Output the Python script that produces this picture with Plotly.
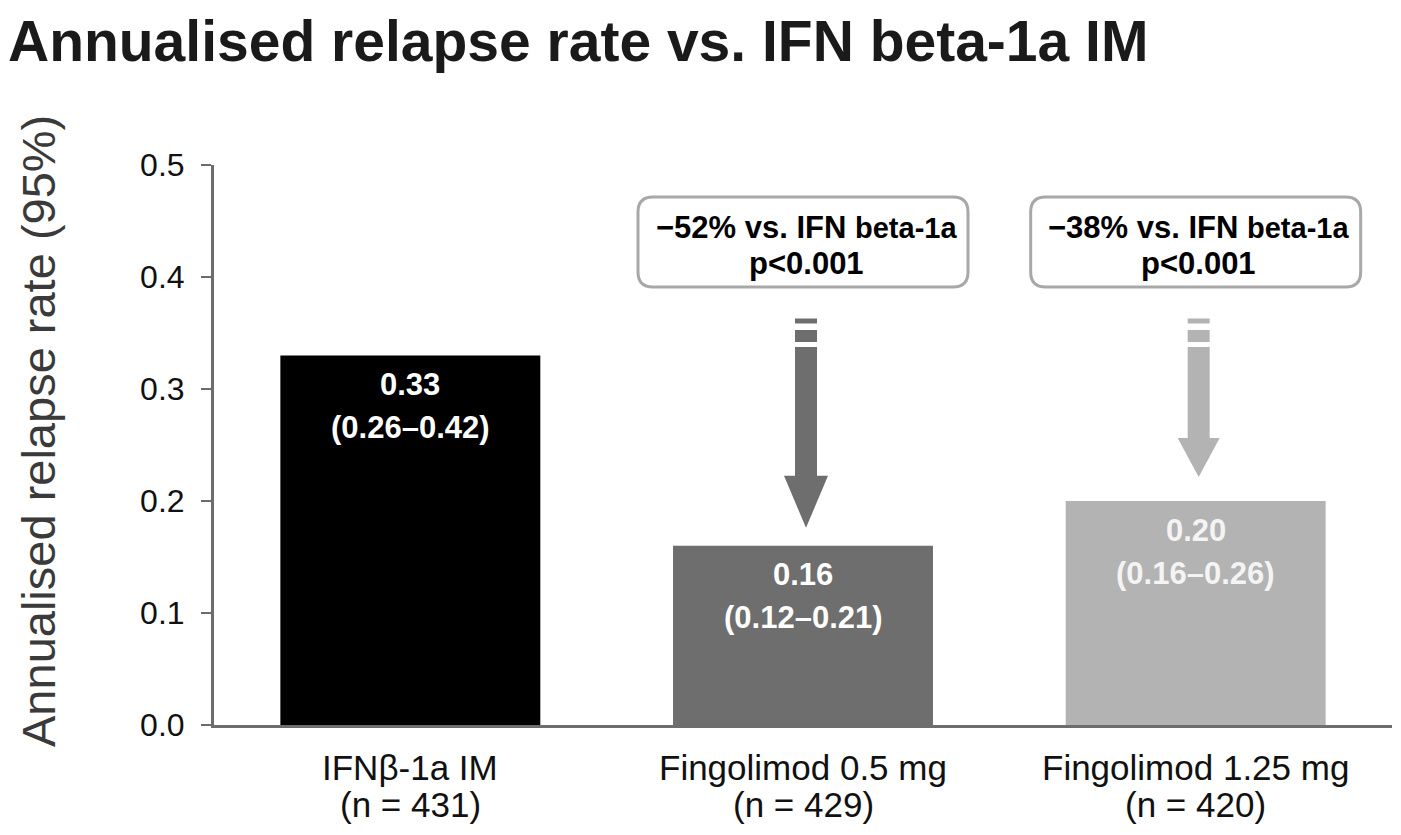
import plotly.graph_objects as go

# ---- data ----
cat_names = ["IFNβ-1a IM", "Fingolimod 0.5 mg", "Fingolimod 1.25 mg"]
cat_n = ["(n = 431)", "(n = 429)", "(n = 420)"]
rates = [0.33, 0.16, 0.20]
rate_labels = ["0.33", "0.16", "0.20"]
ci_labels = ["(0.26–0.42)", "(0.12–0.21)", "(0.16–0.26)"]
reductions = ["−52%", "−38%"]          # vs. IFN beta-1a, for bars 2 and 3
p_values = ["p&lt;0.001", "p&lt;0.001"]
y_ticks = [0.0, 0.1, 0.2, 0.3, 0.4, 0.5]

# ---- styles ----
bar_colors = ["#000000", "#6e6e6e", "#b3b3b3"]
label_colors = ["#ffffff", "#ffffff", "#f4f4f4"]
axis_color = "#6d6d6d"
FONT = "Liberation Sans, Arial, sans-serif"

OFF = 8                      # page body margin
W, H = 1401 - OFF, 835 - OFF
PL, PR = 214, 1392           # plot area left/right on the page
L, T = PL - OFF, 165 - OFF
R = W - (PR - OFF)
B = H - (725 - OFF)
Y_RANGE = [0, 0.5]
plot_h = H - T - B


def px(p):
    """pixel length -> data units on the y axis"""
    return p * (Y_RANGE[1] - Y_RANGE[0]) / plot_h


def page_y(p):
    """page pixel row -> data y"""
    return (725 - p) / plot_h * (Y_RANGE[1] - Y_RANGE[0])


n = len(cat_names)
fig = go.Figure()
fig.add_trace(go.Bar(
    x=list(range(n)),
    y=rates,
    marker=dict(color=bar_colors, line=dict(width=0)),
    width=0.662,
    hoverinfo="skip",
))

annotations = []
# category labels (two lines)
for i in range(n):
    annotations.append(dict(x=i, y=0, xref="x", yref="paper", text=cat_names[i], showarrow=False,
                            yanchor="middle", yshift=-42,
                            font=dict(family=FONT, size=35, color="#111111")))
    annotations.append(dict(x=i, y=0, xref="x", yref="paper", text=cat_n[i], showarrow=False,
                            yanchor="middle", yshift=-79,
                            font=dict(family=FONT, size=35, color="#111111")))

# value labels inside bars
for i, (v, a, b) in enumerate(zip(rates, rate_labels, ci_labels)):
    annotations.append(dict(x=i, y=v, xref="x", yref="y", text=f"<b>{a}</b>", showarrow=False,
                            yanchor="middle", yshift=-29,
                            font=dict(family=FONT, size=31, color=label_colors[i])))
    annotations.append(dict(x=i, y=v, xref="x", yref="y", text=f"<b>{b}</b>", showarrow=False,
                            yanchor="middle", yshift=-72,
                            font=dict(family=FONT, size=31, color=label_colors[i])))

shapes = []
box_y = page_y(242)
bw, bh, rr = 330, 90, 15
hw, hh = bw / 2, bh / 2
box_path = (f"M {-hw+rr},{-hh} L {hw-rr},{-hh} Q {hw},{-hh} {hw},{-hh+rr} "
            f"L {hw},{hh-rr} Q {hw},{hh} {hw-rr},{hh} L {-hw+rr},{hh} "
            f"Q {-hw},{hh} {-hw},{hh-rr} L {-hw},{-hh+rr} Q {-hw},{-hh} {-hw+rr},{-hh} Z")

head_len = [52, 39]
tip_gap = [18, 24]
head_half = [22, 21]
shaft_half = 11
for k, i in enumerate([1, 2]):
    xo = 3
    shapes.append(dict(type="path", xref="x", yref="y", xsizemode="pixel", ysizemode="pixel",
                       xanchor=i, yanchor=box_y, path=box_path,
                       line=dict(color="#a8a8a8", width=3), fillcolor="white", layer="above"))
    annotations.append(dict(x=i, y=box_y, xref="x", yref="y", xshift=xo, showarrow=False,
                            yanchor="middle", yshift=15,
                            text=(f"<b>{reductions[k]} vs. IFN "
                                  f"<span style='font-size:29px'>beta-1a</span></b>"),
                            font=dict(family=FONT, size=31, color="#000000")))
    annotations.append(dict(x=i, y=box_y, xref="x", yref="y", xshift=xo, showarrow=False,
                            yanchor="middle", yshift=-21,
                            text=f"<b>{p_values[k]}</b>",
                            font=dict(family=FONT, size=31, color="#000000")))
    col = bar_colors[i]
    v = rates[i]
    tip = v + px(tip_gap[k])
    base = tip + px(head_len[k])
    for (p0, p1) in [(318.5, 323.5), (330, 342)]:
        shapes.append(dict(type="rect", xref="x", yref="y", xsizemode="pixel", xanchor=i,
                           x0=xo - shaft_half, x1=xo + shaft_half,
                           y0=page_y(p1), y1=page_y(p0),
                           fillcolor=col, line=dict(width=0)))
    shapes.append(dict(type="rect", xref="x", yref="y", xsizemode="pixel", xanchor=i,
                       x0=xo - shaft_half, x1=xo + shaft_half,
                       y0=base - px(0.5), y1=page_y(347),
                       fillcolor=col, line=dict(width=0)))
    hh2 = head_half[k]
    shapes.append(dict(type="path", xref="x", yref="y", xsizemode="pixel", xanchor=i,
                       path=f"M {xo-hh2},{base} L {xo+hh2},{base} L {xo},{tip} Z",
                       fillcolor=col, line=dict(width=0)))

# y-axis title
annotations.append(dict(xref="paper", yref="paper", x=0, y=0.5, xshift=38 - PL,
                        yshift=(725 + 165) / 2 - 431,
                        text="Annualised relapse rate (95%)", textangle=-90, showarrow=False,
                        xanchor="center", yanchor="middle",
                        font=dict(family=FONT, size=47, color="#3a3a3a")))

fig.update_layout(
    width=W, height=H,
    margin=dict(l=L, r=R, t=T, b=B, pad=0),
    paper_bgcolor="white", plot_bgcolor="white",
    showlegend=False,
    title=dict(text="<b>Annualised relapse rate vs. IFN beta-1a IM</b>",
               x=0, xanchor="left", xref="container", y=1 - (41 - OFF) / H, yanchor="middle",
               font=dict(family=FONT, size=57, color="#1a1a1a")),
    xaxis=dict(range=[-0.5, 2.5], tickmode="array", tickvals=list(range(n)),
               showticklabels=False, showgrid=False, zeroline=False,
               showline=True, linecolor=axis_color, linewidth=3, ticks=""),
    yaxis=dict(range=Y_RANGE, tickvals=y_ticks, ticktext=[f"{t:.1f}" for t in y_ticks],
               showgrid=False, zeroline=False, showline=True, linecolor=axis_color, linewidth=3,
               ticks="outside", ticklen=10, tickwidth=2, tickcolor=axis_color,
               ticklabelstandoff=10,
               tickfont=dict(family=FONT, size=32, color="#111111")),
    annotations=annotations,
    shapes=shapes,
)

fig.write_html("out.html")
